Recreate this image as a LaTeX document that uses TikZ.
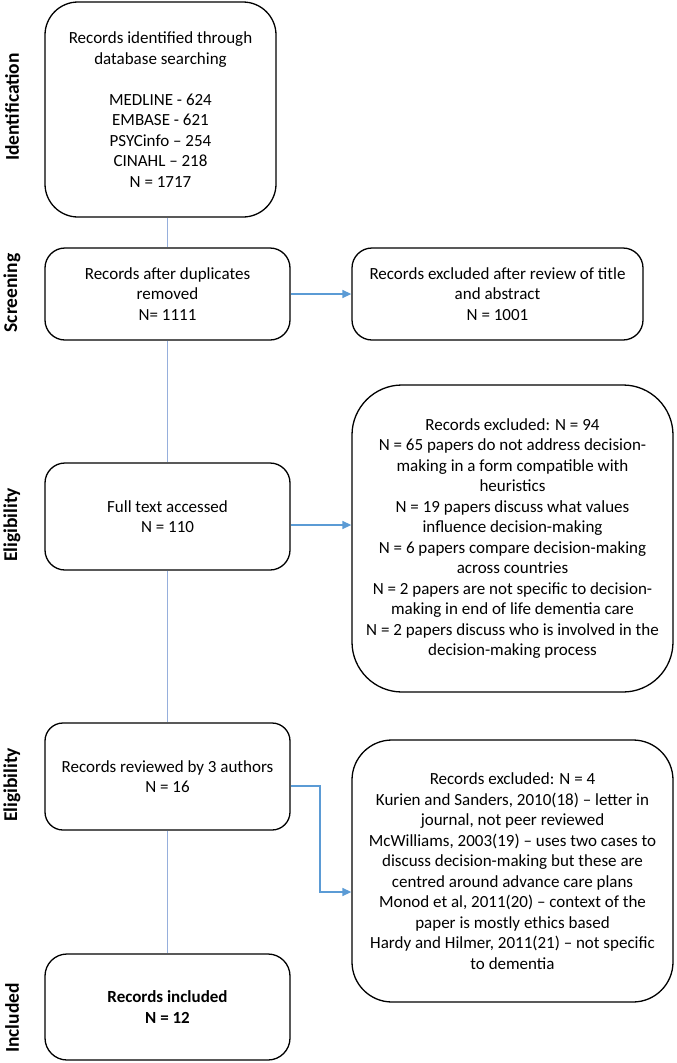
\documentclass[tikz,border=0pt]{standalone}
\usepackage{fontspec}
\setmainfont{Carlito}
\usetikzlibrary{arrows.meta}
\definecolor{arrblue}{RGB}{91,155,213}
\definecolor{lineblue}{RGB}{150,175,220}
\tikzset{
  box/.style={draw=black, line width=1.3pt, align=center, inner sep=2pt,
    font=\fontsize{17}{20.5}\selectfont},
  sidelabel/.style={rotate=90, font=\fontsize{19.5}{20}\selectfont\bfseries},
  arr/.style={draw=arrblue, line width=1.4pt, -{Triangle[length=9pt,width=8pt]}},
  vline/.style={draw=lineblue, line width=0.8pt},
}
\begin{document}
\begin{tikzpicture}[x=1pt,y=-1pt]
\useasboundingbox (0,0) rectangle (677,1063);
% boxes
\node[box, rounded corners=33pt, minimum width=231pt, minimum height=215pt] (b1) at (160.5,109.5)
  {Records identified through\\database searching\\[20.5pt]MEDLINE - 624\\EMBASE - 621\\PSYCinfo – 254\\CINAHL – 218\\N = 1717};
\node[box, rounded corners=20pt, minimum width=245pt, minimum height=92pt] (b2) at (167.5,294)
  {Records after duplicates\\removed\\N= 1111};
\node[box, rounded corners=20pt, minimum width=291pt, minimum height=92pt] (r1) at (497.5,294)
  {Records excluded after review of title\\and abstract\\N = 1001};
\node[box, rounded corners=20pt, minimum width=245pt, minimum height=107pt] (b3) at (167.5,516.5)
  {Full text accessed\\N = 110};
\node[box, rounded corners=50pt, minimum width=321pt, minimum height=307pt] (r2) at (512.5,538.5)
  {Records excluded: N = 94\\N = 65 papers do not address decision-\\making in a form compatible with\\heuristics\\N = 19 papers discuss what values\\influence decision-making\\N = 6 papers compare decision-making\\across countries\\N = 2 papers are not specific to decision-\\making in end of life dementia care\\N = 2 papers discuss who is involved in the\\decision-making process};
\node[box, rounded corners=18pt, minimum width=245pt, minimum height=107pt] (b4) at (167.5,776.5)
  {Records reviewed by 3 authors\\N = 16};
\node[box, rounded corners=40pt, minimum width=321pt, minimum height=262pt] (r3) at (512.5,871)
  {Records excluded: N = 4\\Kurien and Sanders, 2010(18) – letter in\\journal, not peer reviewed\\McWilliams, 2003(19) – uses two cases to\\discuss decision-making but these are\\centred around advance care plans\\Monod et al, 2011(20) – context of the\\paper is mostly ethics based\\Hardy and Hilmer, 2011(21) – not specific\\to dementia};
\node[box, rounded corners=22pt, minimum width=245pt, minimum height=106pt] (b5) at (167.5,1007)
  {\bfseries Records included\\\bfseries N = 12};
% side labels
\node[sidelabel] (l1) at (12,107) {Identification};
\node[sidelabel] (l2) at (12,293) {Screening};
\node[sidelabel] (l3) at (12,525) {Eligibility};
\node[sidelabel] (l4) at (12,785) {Eligibility};
\node[sidelabel] (l5) at (12,1018) {Included};
% vertical connectors
\draw[vline] (b1.south -| b2.north) -- (b2.north);
\draw[vline] (b2.south) -- (b3.north);
\draw[vline] (b3.south) -- (b4.north);
\draw[vline] (b4.south) -- (b5.north);
% arrows
\draw[arr] (b2.east) -- (b2.east -| r1.west);
\draw[arr] ([yshift=-8.5pt]b3.east) -- ([yshift=-8.5pt]b3.east -| r2.west);
\coordinate (c1) at (320,786);
\coordinate (c2) at (320,892);
\draw[arr] (b4.east |- c1) -- (c1) -- (c2) -- (c2 -| r3.west);
\end{tikzpicture}
\end{document}
